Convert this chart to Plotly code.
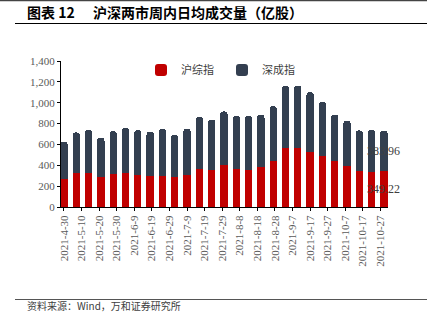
import plotly.graph_objects as go
import pandas as pd

dates = pd.date_range("2021-04-30", periods=27, freq="7D").strftime("%Y-%m-%d").tolist()
total = [625, 715, 737, 663, 727, 759, 737, 721, 749, 689, 749, 864, 839, 916,
         873, 871, 883, 967, 1161, 1165, 1100, 1005, 887, 826, 734, 737, 733.18]
sh = [265, 328, 328, 284, 316, 328, 303, 294, 300, 284, 309, 364, 351, 399,
      363, 354, 380, 437, 567, 567, 523, 491, 440, 395, 344, 338, 349.22]
sz = [round(t - s, 2) for t, s in zip(total, sh)]
names = ["沪综指", "深成指"]
title_a = "图表 12"
title_b = "沪深两市周内日均成交量（亿股）"
source_text = "资料来源：Wind，万和证券研究所"

W, H = 427, 325
L, R, T, B = 61, 39, 61, 118
pw, ph = W - L - R, H - T - B

def px(x):
    return (x - L) / pw

def py(y):
    return (H - B - y) / ph

serif = "Liberation Serif, Noto Sans CJK SC, serif"
cjk = "Noto Sans CJK SC, sans-serif"
DAY = 86400000
bw = 4.15 * DAY

fig = go.Figure()
fig.add_trace(go.Bar(x=dates, y=sh, name=names[0], marker=dict(color="#C00000", line=dict(width=0)), width=bw))
fig.add_trace(go.Bar(x=dates, y=sz, name=names[1], marker=dict(color="#333F50", line=dict(width=0)), width=bw))

fig.add_annotation(x=dates[-1], y=sz[-1] / 2 + sh[-1], text=f"{sz[-1]:.2f}", showarrow=False,
                   font=dict(family=serif, size=12, color="#404040"), xanchor="center", yanchor="middle")
fig.add_annotation(x=dates[-1], y=sh[-1] / 2, text=f"{sh[-1]:.2f}", showarrow=False,
                   font=dict(family=serif, size=12, color="#404040"), xanchor="center", yanchor="middle")

fig.add_annotation(xref="paper", yref="paper", x=px(25), y=py(12), text=title_a, showarrow=False,
                   xanchor="left", yanchor="middle",
                   font=dict(family=cjk, size=14, color="#000000", weight="bold"))
fig.add_annotation(xref="paper", yref="paper", x=px(91), y=py(12), text=title_b, showarrow=False,
                   xanchor="left", yanchor="middle",
                   font=dict(family=cjk, size=14, color="#000000", weight="bold"))

fig.add_annotation(xref="paper", yref="paper", x=px(25), y=py(305), text=source_text, showarrow=False,
                   xanchor="left", yanchor="middle", font=dict(family=cjk, size=10, color="#404040"))

line = dict(color="#000000", width=1)
fig.add_shape(type="line", xref="paper", yref="paper", x0=px(15), x1=px(427), y0=py(23.5), y1=py(23.5), line=line)
fig.add_shape(type="line", xref="paper", yref="paper", x0=px(15), x1=px(427), y0=py(299.5), y1=py(299.5), line=dict(color="#555555", width=1))
fig.add_shape(type="line", xref="paper", yref="paper", x0=px(0), x1=px(427), y0=py(0.5), y1=py(0.5), line=dict(color="#444444", width=1.5))

fig.update_layout(
    width=W, height=H,
    margin=dict(l=L, r=R, t=T, b=B),
    paper_bgcolor="white", plot_bgcolor="white",
    barmode="stack", barcornerradius=3,
    legend=dict(orientation="h", traceorder="normal", x=px(222), y=py(70), xanchor="center", yanchor="middle",
                font=dict(family=cjk, size=11, color="#404040"), bgcolor="rgba(0,0,0,0)",
                itemwidth=30, entrywidth=36, entrywidthmode="pixels"),
    showlegend=True,
    xaxis=dict(type="date", range=[pd.Timestamp("2021-04-30") - pd.Timedelta(days=1.7),
                                   pd.Timestamp("2021-10-29") + pd.Timedelta(days=2.3)],
               tick0="2021-04-30", dtick=10 * DAY, tickformat="%Y-%-m-%-d", tickangle=-90,
               showline=True, linecolor="#000000", linewidth=1, ticks="outside", ticklen=3,
               tickcolor="#000000", showgrid=False, zeroline=False,
               tickfont=dict(family=serif, size=11, color="#595959")),
    yaxis=dict(range=[0, 1400], dtick=200, tickformat=",d", showline=True, linecolor="#000000",
               linewidth=1, ticks="outside", ticklen=3, tickcolor="#000000", showgrid=False,
               zeroline=False, tickfont=dict(family=serif, size=11, color="#595959")),
)

fig.write_html("out.html")
